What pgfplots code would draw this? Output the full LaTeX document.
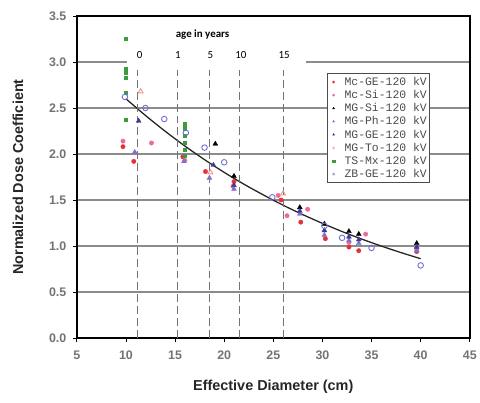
\documentclass[border=0pt]{standalone}
\usepackage{fontspec}
\setmainfont{Liberation Sans}
\newfontfamily\monofont{Liberation Mono}
\newfontfamily\carlito{Carlito}
\usepackage{pgfplots}
\pgfplotsset{compat=1.18}
\definecolor{mcge}{HTML}{E4303A}
\definecolor{mcsi}{HTML}{EC6A95}
\definecolor{mgph}{HTML}{8070CC}
\definecolor{mgge}{HTML}{3B3A98}
\definecolor{mgto}{HTML}{F09494}
\definecolor{tsmx}{HTML}{3E9A3E}
\definecolor{zbge}{HTML}{6F70D2}
\begin{document}
\begin{tikzpicture}
\path (-77bp,-65bp) rectangle (403bp,339bp);
\begin{axis}[
  at={(0,0)}, anchor=south west,
  width=394bp, height=323bp, scale only axis,
  xmin=5, xmax=45, ymin=0, ymax=3.5,
  xtick={5,10,...,45}, ytick={0,0.5,...,3.5},
  yticklabel style={/pgf/number format/fixed, /pgf/number format/fixed zerofill, /pgf/number format/precision=1, xshift=-3bp},
  /pgf/number format/assume math mode=true,
  ticklabel style={font=\fontsize{12.5}{13}\selectfont\bfseries, text=black!55},
  xticklabel style={yshift=-5bp},
  tick align=outside, major tick length=4bp,
  tick style={black, line width=0.8pt},
  xtick pos=lower, ytick pos=left,
  ymajorgrids, grid style={black!45, line width=1.2pt},
  axis line style={black, line width=1.5pt},
  xlabel={Effective Diameter (cm)},
  ylabel={Normalized Dose Coefficient},
  label style={font=\fontsize{14.5}{15}\selectfont\bfseries, text=black!85},
  xlabel style={at={(axis description cs:0.5,-0.152)}, anchor=center},
  ylabel style={at={(axis description cs:-0.150,0.5)}, anchor=center},
  legend style={at={(axis description cs:0.637,0.824)}, anchor=north west,
    font=\monofont\fontsize{11.5}{12}\selectfont, text=black!70,
    draw=black!70, line width=1pt, fill=white,
    inner xsep=1bp, inner ysep=2bp, row sep=-0.6bp},
  legend cell align=left,
  legend image code/.code={\path[draw=none, fill=none] (0bp,0bp) (14bp,0bp);
    \draw[#1, line width=0.4pt, mark size=1.1bp] plot coordinates {(5bp,0bp)};},
]
% gap in the 3.0 grid line behind the age labels
\fill[white] (axis cs:10.12,2.93) rectangle (axis cs:28.35,3.12);

\addplot[only marks, mark=*, mark size=2.2bp, color=mcge] coordinates {
 (9.7,2.08) (10.8,1.92) (15.8,1.97) (18.1,1.81) (21.0,1.70) (25.8,1.50)
 (27.8,1.26) (30.3,1.08) (32.7,0.99) (33.7,0.95) (39.6,0.94)};
\addlegendentry{Mc-GE-120 kV}
\addplot[only marks, mark=*, mark size=2.2bp, color=mcsi] coordinates {
 (9.7,2.14) (12.6,2.12) (16.0,1.93) (20.9,1.65) (25.5,1.55) (26.4,1.33)
 (28.5,1.40) (32.7,1.04) (34.4,1.13) (39.6,0.97)};
\addlegendentry{Mc-Si-120 kV}
\addplot[only marks, mark=triangle*, mark size=2.8bp, color=black] coordinates {
 (19.1,2.11) (21.0,1.76) (27.7,1.42) (30.2,1.24) (32.7,1.16) (33.7,1.13) (39.6,1.03)};
\addlegendentry{MG-Si-120 kV}
\addplot[only marks, mark=triangle*, mark size=2.8bp, color=mgph] coordinates {
 (10.9,2.02) (15.9,1.92) (18.5,1.74) (21.0,1.62) (27.7,1.35) (30.2,1.12)
 (32.7,1.06) (33.7,1.03) (39.6,0.95)};
\addlegendentry{MG-Ph-120 kV}
\addplot[only marks, mark=triangle*, mark size=2.8bp, color=mgge] coordinates {
 (11.3,2.36) (18.9,1.88) (21.0,1.66) (27.7,1.38) (30.2,1.17) (32.7,1.10)
 (33.7,1.07) (39.6,0.99)};
\addlegendentry{MG-GE-120 kV}
\addplot[only marks, mark=triangle, mark size=2.8bp, color=mgto, line width=0.9pt] coordinates {
 (11.5,2.68) (18.6,1.80) (26.0,1.57)};
\addlegendentry{MG-To-120 kV}
\addplot[only marks, mark=square*, mark size=1.6bp, color=tsmx] coordinates {
 (10,3.25) (10,2.93) (10,2.88) (10,2.83) (10,2.67) (10,2.37)
 (16,2.33) (16,2.28) (16,2.20) (16,2.12) (16,2.05) (16,1.98)};
\addlegendentry{TS-Mx-120 kV}
\addplot[only marks, mark=o, mark size=2.8bp, color=zbge, line width=0.9pt] coordinates {
 (9.9,2.62) (12.0,2.50) (13.9,2.38) (16.1,2.23) (18.0,2.07) (20.0,1.91)
 (24.9,1.53) (30.2,1.22) (32.0,1.09) (35.0,0.98) (40.0,0.79)};
\addlegendentry{ZB-GE-120 kV}

% fitted curve
\addplot[forget plot, black!85, line width=1.3pt, smooth] coordinates {
 (10,2.60) (12,2.418) (14,2.247) (16,2.087) (18,1.939) (20,1.801) (22,1.673)
 (24,1.555) (26,1.444) (28,1.342) (30,1.247) (32,1.158) (34,1.076)
 (36,1.000) (38,0.929) (40,0.863)};

% age lines
\addplot[forget plot, black!55, dash pattern=on 8pt off 4pt, line width=1pt] coordinates {(11.2,0) (11.2,2.91)};
\addplot[forget plot, black!55, dash pattern=on 8pt off 4pt, line width=1pt] coordinates {(15.2,0) (15.2,2.91)};
\addplot[forget plot, black!55, dash pattern=on 8pt off 4pt, line width=1pt] coordinates {(18.5,0) (18.5,2.91)};
\addplot[forget plot, black!55, dash pattern=on 8pt off 4pt, line width=1pt] coordinates {(21.6,0) (21.6,2.91)};
\addplot[forget plot, black!55, dash pattern=on 8pt off 4pt, line width=1pt] coordinates {(26.0,0) (26.0,2.91)};

\node[font=\carlito\bfseries\fontsize{11}{11}\selectfont] at (axis cs:17.8,3.30) {age in years};
\node[font=\carlito\fontsize{11}{11}\selectfont] at (axis cs:11.4,3.08) {0};
\node[font=\carlito\fontsize{11}{11}\selectfont] at (axis cs:15.3,3.08) {1};
\node[font=\carlito\fontsize{11}{11}\selectfont] at (axis cs:18.6,3.08) {5};
\node[font=\carlito\fontsize{11}{11}\selectfont] at (axis cs:21.7,3.08) {10};
\node[font=\carlito\fontsize{11}{11}\selectfont] at (axis cs:26.1,3.08) {15};
\end{axis}
\end{tikzpicture}
\end{document}
